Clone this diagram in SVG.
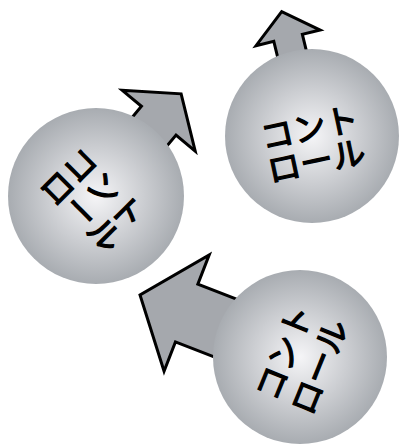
<svg xmlns="http://www.w3.org/2000/svg" width="403" height="444" viewBox="0 0 403 444">
  <defs>
    <radialGradient id="ball" cx="0.5" cy="0.5" r="0.5">
      <stop offset="0" stop-color="#f5f5f7"/>
      <stop offset="0.55" stop-color="#cbcdd1"/>
      <stop offset="1" stop-color="#a8acb1"/>
    </radialGradient>
    <style>
      .arrow { fill: #a5a8ad; stroke: #000; stroke-width: 3; stroke-linejoin: miter; }
      .ball { fill: url(#ball); }
      .lbl { font-family: "Noto Sans CJK JP", "Noto Sans", sans-serif; font-size: 33px; fill: #000; stroke: #000; stroke-width: 1.3; stroke-linejoin: round; stroke-linecap: round; text-anchor: middle; dominant-baseline: central; }
    </style>
  </defs>
  <g id="connectors"/>
  <g id="node-left">
    <polygon class="arrow" transform="translate(96,196) rotate(-50.2)" points="0,-22.5 98,-22.5 98,-47.5 133,0 98,47.5 98,22.5 0,22.5"/>
    <circle class="ball" cx="96" cy="196" r="88"/>
    <g transform="translate(94,198.5) rotate(45)">
      <text class="lbl" x="0" y="-16">コント</text>
      <text class="lbl" x="0" y="16">ロール</text>
    </g>
  </g>
  <g id="node-top-right">
    <polygon class="arrow" transform="translate(312,136) rotate(-103.7)" points="0,-14.7 101,-14.7 101,-33 128,0 101,33 101,14.7 0,14.7"/>
    <circle class="ball" cx="312" cy="136" r="87"/>
    <g transform="translate(312.5,142.5) rotate(-12)">
      <text class="lbl" x="0" y="-17">コント</text>
      <text class="lbl" x="0" y="17">ロール</text>
    </g>
  </g>
  <g id="node-bottom-right">
    <polygon class="arrow" transform="translate(300,357) rotate(-158.8)" points="0,-31 121.6,-31 121.6,-62.4 171.6,0 121.6,62.4 121.6,31 0,31"/>
    <circle class="ball" cx="300" cy="357" r="87"/>
    <g transform="translate(300,359) rotate(-68)">
      <text class="lbl" x="0" y="-19">コント</text>
      <text class="lbl" x="0" y="19">ロール</text>
    </g>
  </g>
</svg>
